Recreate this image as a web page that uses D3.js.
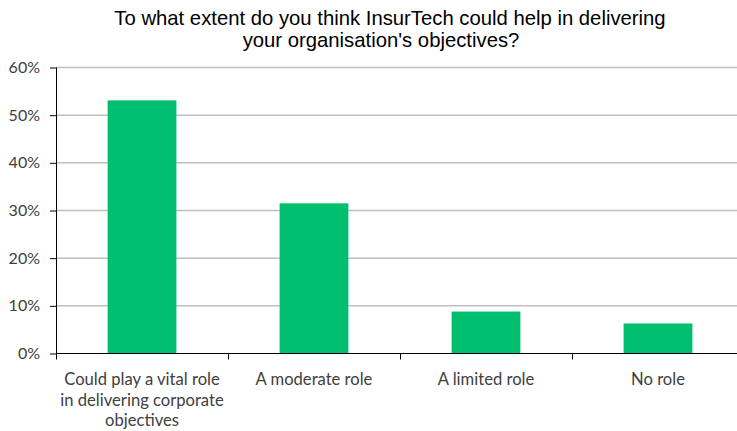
<!DOCTYPE html>
<html>
<head>
<meta charset="utf-8">
<script src="https://cdn.jsdelivr.net/npm/d3@7"></script>
<style>
  body { margin: 0; background: #fff; }
  svg { display: block; overflow: hidden; }
</style>
</head>
<body>
<div class="container"></div>
<script>
// data
const categories = [
  ["Could play a vital role", "in delivering corporate", "objectives"],
  ["A moderate role"],
  ["A limited role"],
  ["No role"]
];
const values = [0.531, 0.315, 0.088, 0.063];
const yTicks = [0, 0.1, 0.2, 0.3, 0.4, 0.5, 0.6];
const titleLines = ["To what extent do you think InsurTech could help in delivering", "your organisation's objectives?"];

const width = 737, height = 431;
const margin = {top: 67.5, left: 56, bottom: 78};
const plotBottom = height - margin.bottom + 0.5; // 353.5

const svg = d3.select(".container").append("svg")
  .attr("width", width)
  .attr("height", height);

// scales
const x = d3.scaleBand()
  .domain(d3.range(categories.length))
  .range([margin.left, margin.left + 172 * 4])
  .paddingInner(0.6)
  .paddingOuter(0.3);

const y = d3.scaleLinear()
  .domain([0, 0.6])
  .range([plotBottom, margin.top]);

// title
svg.append("text")
  .attr("text-anchor", "middle")
  .attr("font-family", "Liberation Sans, Arial, sans-serif")
  .attr("font-size", 20.3)
  .attr("fill", "#000")
  .selectAll("tspan")
  .data(titleLines)
  .join("tspan")
  .attr("x", (d, i) => i === 0 ? 390 : 381)
  .attr("y", (d, i) => 25 + i * 22)
  .text(d => d);

// gridlines
svg.append("g")
  .selectAll("line")
  .data(yTicks.slice(1))
  .join("line")
  .attr("x1", margin.left)
  .attr("x2", width)
  .attr("y1", d => y(d))
  .attr("y2", d => y(d))
  .attr("stroke", "#bfbfbf")
  .attr("stroke-width", 1.5);

// bars
svg.append("g")
  .selectAll("rect")
  .data(values)
  .join("rect")
  .attr("x", (d, i) => x(i))
  .attr("y", d => y(d))
  .attr("width", x.bandwidth())
  .attr("height", d => y(0) - y(d))
  .attr("fill", "#00bf6f");

// y axis
const yAxis = d3.axisLeft(y)
  .tickValues(yTicks)
  .tickFormat(d3.format(".0%"))
  .tickSize(6)
  .tickPadding(10);

const yAxisGroup = svg.append("g")
  .attr("transform", `translate(${margin.left},0)`)
  .call(yAxis);
yAxisGroup.select(".domain").attr("stroke", "#000").attr("d", `M0.5,${margin.top}V${plotBottom}`);
yAxisGroup.selectAll(".tick line").attr("stroke", "#000");
yAxisGroup.selectAll(".tick text")
  .attr("font-family", "Lato, Calibri, sans-serif")
  .attr("font-size", 16)
  .attr("fill", "#404040");

// x axis: ticks at band boundaries
const xAxisGroup = svg.append("g");
xAxisGroup.append("line")
  .attr("x1", margin.left)
  .attr("x2", width)
  .attr("y1", plotBottom)
  .attr("y2", plotBottom)
  .attr("stroke", "#000");
xAxisGroup.selectAll(".xtick")
  .data(d3.range(categories.length + 1))
  .join("line")
  .attr("class", "xtick")
  .attr("x1", i => Math.round(margin.left + x.step() * i) + 0.5)
  .attr("x2", i => Math.round(margin.left + x.step() * i) + 0.5)
  .attr("y1", plotBottom)
  .attr("y2", plotBottom + 6)
  .attr("stroke", "#000");

xAxisGroup.selectAll(".xlabel")
  .data(categories)
  .join("text")
  .attr("class", "xlabel")
  .attr("text-anchor", "middle")
  .attr("font-family", "Lato, Calibri, sans-serif")
  .attr("font-size", 16.6)
  .attr("fill", "#404040")
  .selectAll("tspan")
  .data((d, i) => d.map(t => ({t, i})))
  .join("tspan")
  .attr("x", d => x(d.i) + x.bandwidth() / 2)
  .attr("y", (d, j) => 385 + j * 20.5)
  .text(d => d.t);
</script>
</body>
</html>
